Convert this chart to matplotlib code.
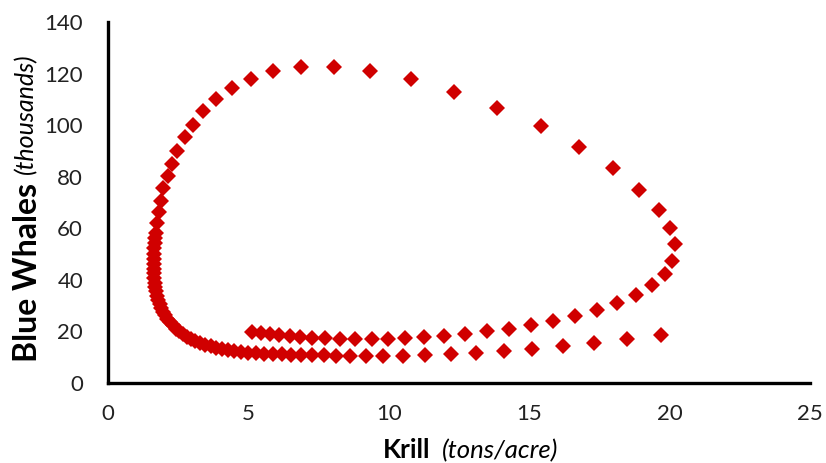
import matplotlib.pyplot as plt

# krill density (tons/acre) and blue whale population (thousands), one point per time step
krill = [5.12, 5.44, 5.77, 6.10, 6.48, 6.84, 7.25, 7.73, 8.26, 8.80, 9.39, 9.96,
         10.58, 11.27, 11.98, 12.73, 13.48, 14.27, 15.05, 15.83, 16.63, 17.41, 18.13,
         18.80, 19.39, 19.84, 20.10, 20.18, 20.03, 19.63, 18.92, 17.97, 16.77, 15.41,
         13.87, 12.33, 10.79, 9.33, 8.05, 6.88, 5.89, 5.08, 4.40, 3.83, 3.37, 3.04,
         2.75, 2.47, 2.29, 2.14, 1.97, 1.87, 1.82, 1.75, 1.71,
         1.68, 1.66, 1.64, 1.63, 1.62, 1.62, 1.62, 1.63, 1.64, 1.66, 1.68, 1.71,
         1.75, 1.79, 1.84, 1.90, 1.96, 2.03, 2.11, 2.20, 2.30, 2.41, 2.53, 2.66,
         2.80, 2.95, 3.11, 3.28, 3.46, 3.65, 3.85, 4.06, 4.28, 4.50, 4.74, 4.99,
         5.26, 5.55, 5.86, 6.19, 6.53, 6.89, 7.27, 7.68, 8.13, 8.63, 9.18, 9.80,
         10.50, 11.30, 12.20, 13.10, 14.10, 15.10, 16.20, 17.30, 18.50, 19.70]
whales = [19.9, 19.4, 19.0, 18.6, 18.2, 17.9, 17.6, 17.4, 17.2, 17.1, 17.0, 17.1,
          17.3, 17.7, 18.3, 19.0, 20.0, 21.1, 22.5, 24.0, 26.0, 28.4, 31.0,
          34.2, 37.9, 42.3, 47.3, 53.8, 60.0, 67.2, 75.0, 83.2, 91.4, 99.5,
          106.8, 113.0, 117.8, 121.0, 122.4, 122.4, 121.0, 118.0, 114.5, 110.0, 105.5, 100.0,
          95.5, 90.1, 85.1, 80.3, 75.8, 70.7, 66.3, 62.2, 58.3,
          56.3, 54.2, 52.2, 50.2, 48.2, 46.3, 44.4, 42.5, 40.7, 38.9, 37.2, 35.5,
          33.8, 32.2, 30.6, 29.1, 27.6, 26.2, 24.8, 23.5, 22.3, 21.1, 20.0, 19.0,
          18.0, 17.1, 16.3, 15.5, 14.8, 14.2, 13.6, 13.1, 12.7, 12.3, 12.0, 11.8,
          11.6, 11.4, 11.2, 11.1, 11.0, 10.9, 10.8, 10.7, 10.6, 10.5, 10.5, 10.5,
          10.6, 10.9, 11.2, 11.7, 12.4, 13.1, 14.2, 15.4, 16.9, 18.6]

xticks = [0, 5, 10, 15, 20, 25]
yticks = [0, 20, 40, 60, 80, 100, 120, 140]

plt.rcParams['font.family'] = ['Lato', 'DejaVu Sans']

fig = plt.figure(figsize=(8.26, 4.63), dpi=100)
ax = fig.add_axes([0.1308, 0.1728, 0.8498, 0.7797])

ax.plot(krill, whales, linestyle='none', marker='D', markersize=7.8,
        color='#D00000', markeredgewidth=0)

ax.set_xlim(0, 25)
ax.set_ylim(0, 140)
ax.set_xticks(xticks)
ax.set_yticks(yticks)
ax.tick_params(length=0, labelsize=16, colors='#222222')
ax.tick_params(axis='y', pad=18)
ax.tick_params(axis='x', pad=15)
for side in ['top', 'right']:
    ax.spines[side].set_visible(False)
for side in ['left', 'bottom']:
    ax.spines[side].set_linewidth(2.4)
    ax.spines[side].set_color('black')

# axis titles: bold name followed by italic unit
fig.text(383 / 826, 1 - 458 / 463, 'Krill', fontsize=19, fontweight='bold',
         ha='left', va='baseline')
fig.text(442 / 826, 1 - 458 / 463, '(tons/acre)', fontsize=18.5, style='italic',
         ha='left', va='baseline')
fig.text(37 / 826, 1 - 362 / 463, 'Blue Whales', fontsize=23, fontweight='bold',
         rotation=90, ha='left', va='baseline', rotation_mode='anchor')
fig.text(33 / 826, 1 - 174 / 463, '(thousands)', fontsize=18, style='italic',
         rotation=90, ha='left', va='baseline', rotation_mode='anchor')

fig.savefig('out.png', dpi=100, facecolor='white')
